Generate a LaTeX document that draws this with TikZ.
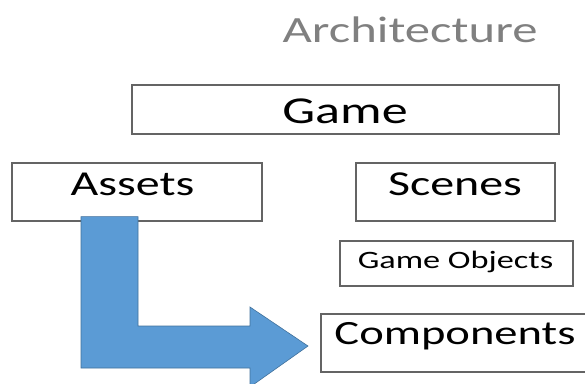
\documentclass[tikz,border=0pt]{standalone}
\usepackage{fontspec}
\setmainfont{Carlito}[FakeStretch=1.37]
\usetikzlibrary{positioning}

\definecolor{boxgray}{RGB}{100,100,100}
\definecolor{titlegray}{RGB}{128,128,128}
\definecolor{arrowblue}{RGB}{91,155,213}
\definecolor{arrowedge}{RGB}{65,113,156}

\newcommand{\fsz}[1]{\fontsize{#1}{#1}\selectfont}

\begin{document}
\begin{tikzpicture}[
  x=1pt, y=-1pt, line cap=round,
  box/.style={rectangle, draw=boxgray, line width=1.3pt, fill=white, inner sep=0pt},
  txt/.style={anchor=base, inner sep=0pt, text=black}
]
\useasboundingbox (0,0) rectangle (585,383);

\node[txt, text=titlegray, font=\fsz{37}] (title) at (410,42) {Architecture};

\node[box, minimum width=427pt, minimum height=49pt] (game) at (345.5,109.5) {};
  \node[txt, font=\fsz{38}] (game-t) at (345,123) {Game};
\node[box, minimum width=250pt, minimum height=58pt] (assets) at (137,192) {};
  \node[txt, font=\fsz{35}] (assets-t) at (132.5,195) {Assets};
\node[box, minimum width=199pt, minimum height=58pt] (scenes) at (455.5,192) {};
  \node[txt, font=\fsz{35}] (scenes-t) at (455,195) {Scenes};
\node[box, minimum width=233pt, minimum height=45pt] (gameobj) at (456.5,263.5) {};
  \node[txt, font=\fsz{25}] (gameobj-t) at (455.5,268) {Game Objects};
\node[box, minimum width=268pt, minimum height=58pt] (comp) at (455,343) {};
  \node[txt, font=\fsz{34}] (comp-t) at (455,344) {Components};

% bent arrow from Assets down and over to Components
\filldraw[fill=arrowblue, draw=arrowedge, line width=0.6pt, line join=miter]
  ([yshift=5pt]assets.south -| 81,0) -- ([yshift=5pt]assets.south -| 138,0) -- (138,326) -- (250,326)
  -- (250,307) -- ([yshift=-3pt]comp.west -| 308,0) -- (250,387) -- (250,368) -- (81,368) -- cycle;
\end{tikzpicture}
\end{document}
